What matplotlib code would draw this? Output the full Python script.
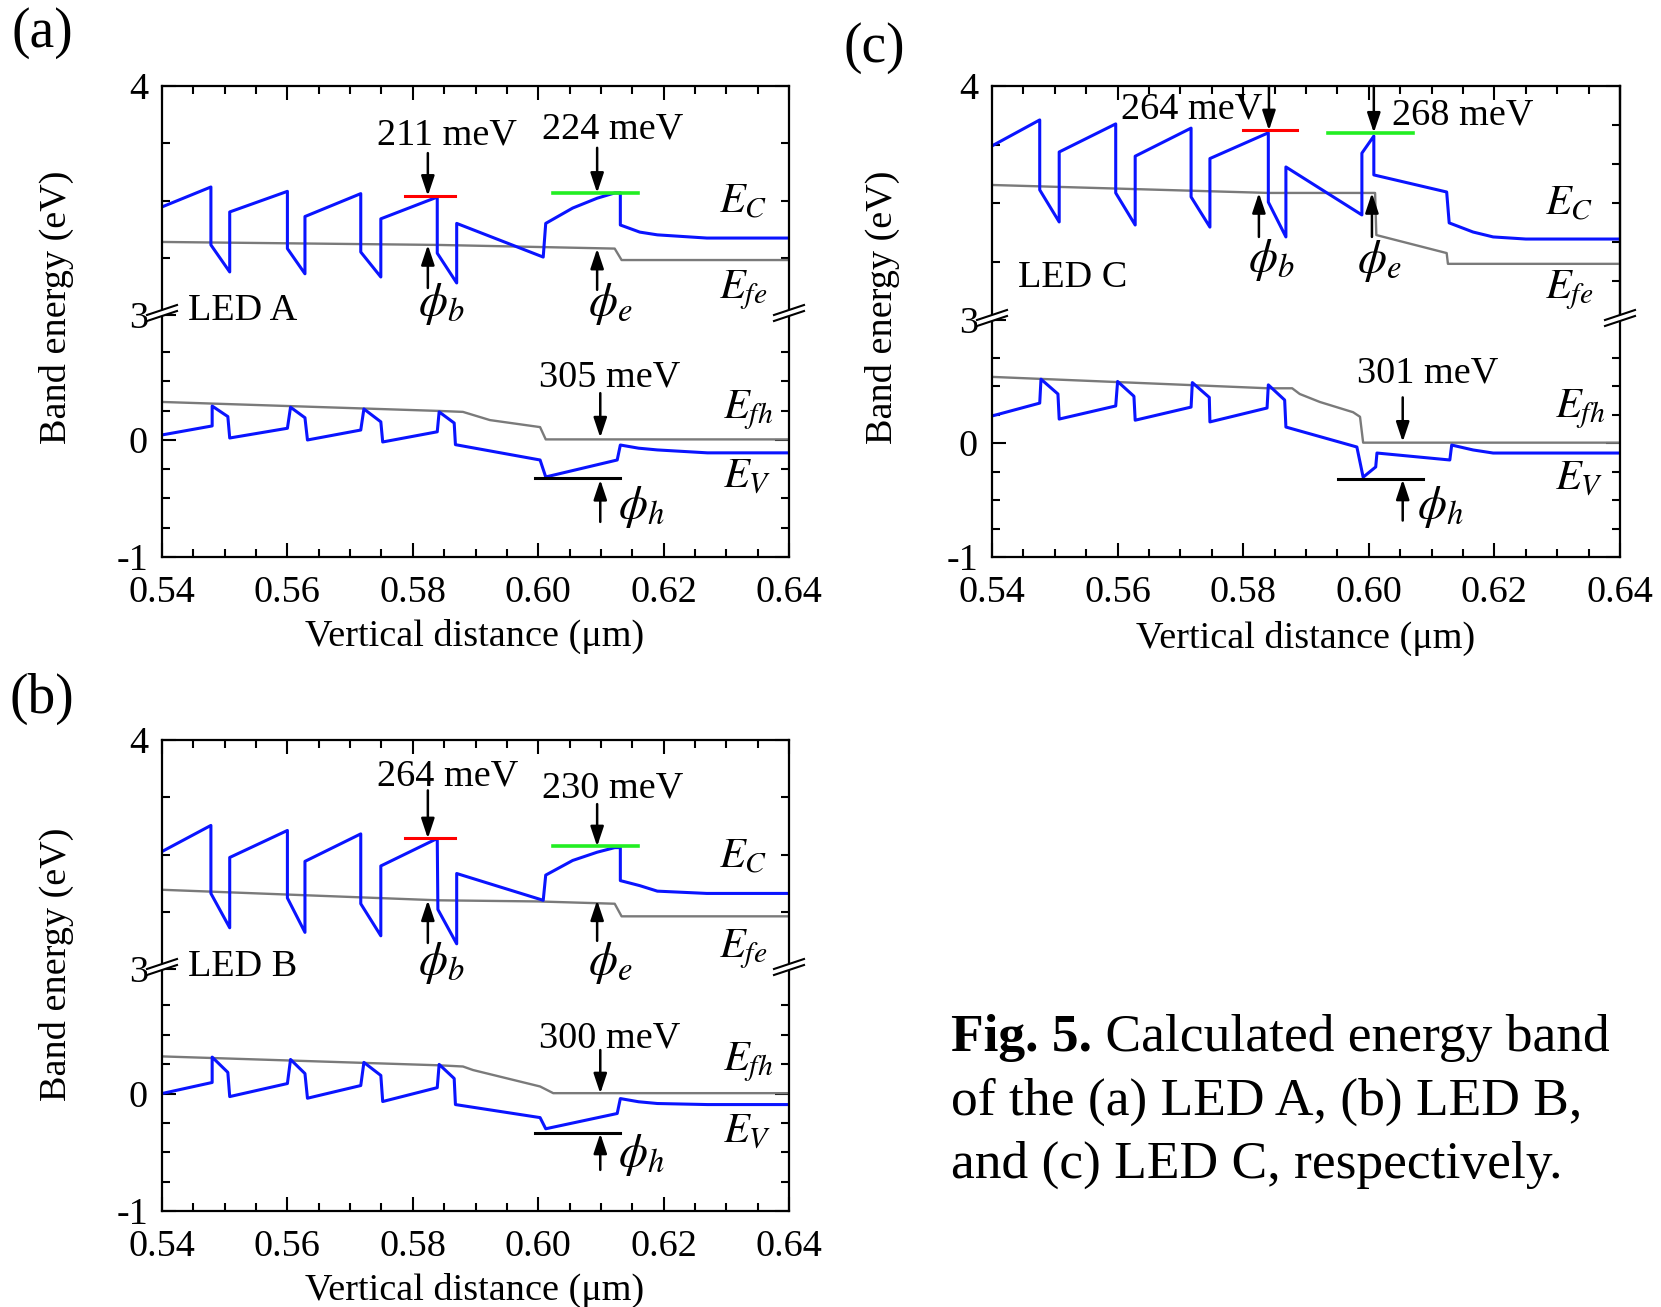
import matplotlib

matplotlib.use("Agg")
import matplotlib.pyplot as plt
import numpy as np
from matplotlib.lines import Line2D
from matplotlib.patches import Polygon
from matplotlib.text import Annotation

plt.rcParams["font.family"] = ["Liberation Serif", "DejaVu Serif"]
plt.rcParams["mathtext.fontset"] = "stix"
FS = 27.5

# ---------------- data (eV vs um) ----------------
# LED A
ec_x_a = [0.540, 0.5478, 0.5478, 0.5508, 0.5508, 0.5600, 0.5600, 0.5628, 0.5628, 0.5717, 0.5717,
          0.5749, 0.5749, 0.5839, 0.5839, 0.5870, 0.5870, 0.6008, 0.6012, 0.6055, 0.6094, 0.6122,
          0.6131, 0.6131, 0.6162, 0.6190, 0.6269, 0.640]
ec_e_a = [3.472, 3.559, 3.306, 3.188, 3.450, 3.540, 3.290, 3.180, 3.430, 3.530, 3.275,
          3.166, 3.420, 3.515, 3.270, 3.140, 3.400, 3.253, 3.400, 3.467, 3.510, 3.533,
          3.533, 3.393, 3.362, 3.350, 3.336, 3.336]
efe_x_a = [0.540, 0.5840, 0.6000, 0.6122, 0.6133, 0.640]
efe_e_a = [3.319, 3.306, 3.297, 3.290, 3.240, 3.240]
ev_x_a = [0.540, 0.5480, 0.5480, 0.5505, 0.5508, 0.5600, 0.5605, 0.5628, 0.5632, 0.5717, 0.5722,
          0.5749, 0.5752, 0.5839, 0.5842, 0.5866, 0.5868, 0.6003, 0.6012, 0.6126, 0.6131, 0.6160,
          0.6190, 0.6270, 0.640]
ev_e_a = [0.043, 0.120, 0.290, 0.200, 0.017, 0.100, 0.280, 0.190, 0.000, 0.085, 0.265,
          0.155, -0.017, 0.070, 0.240, 0.145, -0.040, -0.171, -0.316, -0.171, -0.043, -0.070,
          -0.085, -0.110, -0.110]
efh_x_a = [0.540, 0.5843, 0.5880, 0.5923, 0.6003, 0.6012, 0.640]
efh_e_a = [0.325, 0.248, 0.240, 0.170, 0.110, 0.005, 0.005]

# LED B
ec_x_b = [0.540, 0.5478, 0.5478, 0.5508, 0.5508, 0.5600, 0.5600, 0.5628, 0.5628, 0.5717, 0.5717,
          0.5749, 0.5749, 0.5839, 0.5840, 0.5870, 0.5870, 0.6008, 0.6012, 0.6055, 0.6094, 0.6122,
          0.6131, 0.6131, 0.6162, 0.6190, 0.6269, 0.640]
ec_e_b = [3.513, 3.627, 3.330, 3.180, 3.487, 3.605, 3.310, 3.160, 3.470, 3.590, 3.285,
          3.145, 3.450, 3.570, 3.260, 3.110, 3.417, 3.300, 3.410, 3.474, 3.510, 3.530,
          3.530, 3.386, 3.364, 3.340, 3.330, 3.330]
efe_x_b = [0.540, 0.5840, 0.6000, 0.6122, 0.6133, 0.640]
efe_e_b = [3.346, 3.300, 3.295, 3.285, 3.230, 3.230]
ev_x_b = ev_x_a
ev_e_b = [0.000, 0.094, 0.310, 0.180, -0.026, 0.085, 0.290, 0.170, -0.040, 0.068, 0.265,
          0.154, -0.068, 0.050, 0.248, 0.128, -0.094, -0.205, -0.300, -0.170, -0.043, -0.070,
          -0.085, -0.094, -0.094]
efh_x_b = [0.540, 0.5843, 0.5880, 0.5896, 0.6003, 0.6024, 0.640]
efh_e_b = [0.316, 0.240, 0.230, 0.200, 0.060, 0.003, 0.003]

# LED C
ec_x_c = [0.540, 0.5476, 0.5476, 0.5507, 0.5507, 0.5597, 0.5597, 0.5628, 0.5628, 0.5717, 0.5717,
          0.5747, 0.5747, 0.5840, 0.5840, 0.5868, 0.5868, 0.5989, 0.5989, 0.6008, 0.6008, 0.6124,
          0.6128, 0.6166, 0.6198, 0.6250, 0.640]
ec_e_c = [3.744, 3.855, 3.556, 3.419, 3.718, 3.838, 3.543, 3.406, 3.700, 3.820, 3.526,
          3.397, 3.690, 3.800, 3.504, 3.355, 3.654, 3.449, 3.713, 3.786, 3.620, 3.547,
          3.415, 3.376, 3.355, 3.346, 3.346]
efe_x_c = [0.540, 0.5840, 0.6010, 0.6012, 0.6124, 0.6126, 0.640]
efe_e_c = [3.577, 3.543, 3.543, 3.363, 3.286, 3.240, 3.240]
ev_x_c = [0.540, 0.5476, 0.5478, 0.5505, 0.5507, 0.5597, 0.5600, 0.5626, 0.5628, 0.5717, 0.5719,
          0.5746, 0.5747, 0.5838, 0.5840, 0.5866, 0.5868, 0.5981, 0.5991, 0.6011, 0.6013, 0.6129,
          0.6132, 0.6166, 0.6198, 0.6260, 0.640]
ev_e_c = [0.237, 0.350, 0.560, 0.430, 0.210, 0.325, 0.540, 0.410, 0.200, 0.315, 0.530,
          0.400, 0.185, 0.307, 0.510, 0.377, 0.140, -0.035, -0.300, -0.210, -0.088, -0.149,
          -0.018, -0.061, -0.088, -0.088, -0.088]
efh_x_c = [0.540, 0.5840, 0.5878, 0.5890, 0.5922, 0.5975, 0.5986, 0.5991, 0.640]
efh_e_c = [0.580, 0.480, 0.480, 0.430, 0.360, 0.270, 0.230, 0.003, 0.003]

# barrier heights (labels) and marker levels
barrier_labels = {"a": ["211 meV", "224 meV", "305 meV"],
                  "b": ["264 meV", "230 meV", "300 meV"],
                  "c": ["264 meV", "268 meV", "301 meV"]}
phi_b_level = [3.520, 3.570, 3.810]
phi_e_level = [3.533, 3.535, 3.800]
phi_h_level = [-0.325, -0.333, -0.320]

x_major = [0.54, 0.56, 0.58, 0.60, 0.62, 0.64]
x_labels = ["0.54", "0.56", "0.58", "0.60", "0.62", "0.64"]

BLUE = "#0a14ff"
GRAY = "#7a7a7a"
GREEN = "#22ee22"

W, H = 1661, 1307
fig = plt.figure(figsize=(W / 100, H / 100), dpi=100)


def panel_axes(left, right, top, junc, bottom, lo_top, odd_right=False):
    w = (right - left) / W
    up = fig.add_axes([left / W, 1 - junc / H, w, (junc - top) / H])
    lo = fig.add_axes([left / W, 1 - bottom / H, w, (bottom - junc) / H])
    for ax in (up, lo):
        ax.set_facecolor("none")
        ax.set_xlim(0.54, 0.64)
        ax.set_xticks(x_major)
        ax.set_xticks(np.arange(0.545, 0.64, 0.005), minor=True)
        ax.tick_params(which="both", direction="in", width=1.5, left=True, right=True,
                       labelsize=FS)
        ax.tick_params(which="major", length=10)
        ax.tick_params(which="minor", length=6)
        ax.tick_params(axis="y", pad=10)
        for s in ax.spines.values():
            s.set_linewidth(1.6)
    up.set_ylim(3, 4)
    up.set_yticks([3, 4], ["3", "4"])
    up.set_yticks([3.25, 3.5, 3.75], minor=True)
    up.spines["bottom"].set_visible(False)
    up.tick_params(axis="x", which="both", bottom=False, top=True, labelbottom=False)
    if odd_right:
        up.tick_params(axis="y", which="minor", right=False)
        sec = up.secondary_yaxis("right")
        sec.set_yticks(3 + np.arange(1, 6) / 6)
        sec.tick_params(direction="in", length=6, width=1.5, labelright=False)
        sec.spines["right"].set_linewidth(1.6)
    lo.set_ylim(-1, lo_top)
    lo.set_yticks([-1, 0], ["-1", "0"])
    lo.set_yticks([-0.75, -0.5, -0.25, 0.25, 0.5, 0.75], minor=True)
    lo.spines["top"].set_visible(False)
    lo.tick_params(axis="x", which="both", top=False, bottom=True, pad=13)
    lo.set_xticklabels(x_labels)
    # axis break marks
    for xp in (left, right):
        yp = junc
        pts = [(xp - 15, yp + 6), (xp + 15, yp - 4), (xp + 15, yp - 10), (xp - 15, yp)]
        fig.add_artist(Polygon([(a / W, 1 - b / H) for a, b in pts], closed=True,
                               transform=fig.transFigure, facecolor="white",
                               edgecolor="none", zorder=5))
        for dy in (6, 0):
            fig.add_artist(Line2D([(xp - 15) / W, (xp + 15) / W],
                                  [1 - (yp + dy) / H, 1 - (yp + dy - 10) / H],
                                  transform=fig.transFigure, color="k", lw=1.5, zorder=6))
    return up, lo


def arrow(ax, x, y0, y1):
    ax.annotate("", xy=(x, y1), xytext=(x, y0), annotation_clip=False,
                arrowprops=dict(arrowstyle="-|>,head_length=0.6,head_width=0.2",
                                color="k", lw=1.8, mutation_scale=20,
                                shrinkA=0, shrinkB=0))


def curves(up, lo, ecx, ece, fex, fee, evx, eve, fhx, fhe):
    up.plot(fex, fee, color=GRAY, lw=1.7)
    up.plot(ecx, ece, color=BLUE, lw=2.2)
    lo.plot(fhx, fhe, color=GRAY, lw=1.7)
    lo.plot(evx, eve, color=BLUE, lw=2.2)


def side_labels(up, lo, xu, ec_y, fe_y, xl, fh_y, v_y):
    up.text(xu, ec_y, r"$E_C$", fontsize=FS + 3, va="baseline", ha="left")
    up.text(xu, fe_y, r"$E_{fe}$", fontsize=FS + 3, va="baseline", ha="left")
    lo.text(xl, fh_y, r"$E_{fh}$", fontsize=FS + 3, va="baseline", ha="left")
    lo.text(xl, v_y, r"$E_V$", fontsize=FS + 3, va="baseline", ha="left")


# ---------------- panel (a) ----------------
up, lo = panel_axes(162, 789, 86, 315, 557, 1.068)
curves(up, lo, ec_x_a, ec_e_a, efe_x_a, efe_e_a, ev_x_a, ev_e_a, efh_x_a, efh_e_a)
up.plot([0.5788, 0.5867], [phi_b_level[0]] * 2, color="red", lw=2.2)
up.plot([0.6024, 0.6159], [phi_e_level[0]] * 2, color=GREEN, lw=2.6)
up.text(0.5855, 3.786, barrier_labels["a"][0], fontsize=FS, ha="center", va="center")
up.text(0.6118, 3.81, barrier_labels["a"][1], fontsize=FS, ha="center", va="center")
arrow(up, 0.5824, 3.707, phi_b_level[0])
arrow(up, 0.6094, 3.73, phi_e_level[0])
arrow(up, 0.5824, 3.118, 3.306)
arrow(up, 0.6094, 3.11, 3.29)
up.text(0.5808, 3.0, r"$\phi_b$", fontsize=FS + 6, va="baseline", ha="left")
up.text(0.6079, 3.0, r"$\phi_e$", fontsize=FS + 6, va="baseline", ha="left")
up.text(0.5441, 3.017, "LED A", fontsize=FS, va="center", ha="left")
lo.plot([0.5995, 0.6131], [phi_h_level[0]] * 2, color="k", lw=2.2)
lo.text(0.6114, 0.54, barrier_labels["a"][2], fontsize=FS, ha="center", va="center")
arrow(lo, 0.6099, 0.40, 0.02)
arrow(lo, 0.6099, -0.70, -0.34)
lo.text(0.6127, -0.667, r"$\phi_h$", fontsize=FS + 6, va="baseline", ha="left")
side_labels(up, lo, 0.6289, 3.445, 3.074, 0.6295, 0.188, -0.41)

# ---------------- panel (b) ----------------
up, lo = panel_axes(162, 789, 740, 969, 1211, 1.06)
curves(up, lo, ec_x_b, ec_e_b, efe_x_b, efe_e_b, ev_x_b, ev_e_b, efh_x_b, efh_e_b)
up.plot([0.5788, 0.5867], [phi_b_level[1]] * 2, color="red", lw=2.2)
up.plot([0.6024, 0.6159], [phi_e_level[1]] * 2, color=GREEN, lw=2.6)
up.text(0.5855, 3.84, barrier_labels["b"][0], fontsize=FS, ha="center", va="center")
up.text(0.6118, 3.79, barrier_labels["b"][1], fontsize=FS, ha="center", va="center")
arrow(up, 0.5824, 3.78, phi_b_level[1])
arrow(up, 0.6094, 3.72, phi_e_level[1])
arrow(up, 0.5824, 3.114, 3.30)
arrow(up, 0.6094, 3.123, 3.30)
up.text(0.5808, 2.98, r"$\phi_b$", fontsize=FS + 6, va="baseline", ha="left")
up.text(0.6079, 2.98, r"$\phi_e$", fontsize=FS + 6, va="baseline", ha="left")
up.text(0.5441, 3.01, "LED B", fontsize=FS, va="center", ha="left")
lo.plot([0.5995, 0.6131], [phi_h_level[1]] * 2, color="k", lw=2.2)
lo.text(0.6114, 0.47, barrier_labels["b"][2], fontsize=FS, ha="center", va="center")
arrow(lo, 0.6099, 0.37, 0.0)
arrow(lo, 0.6099, -0.65, -0.34)
lo.text(0.6127, -0.615, r"$\phi_h$", fontsize=FS + 6, va="baseline", ha="left")
side_labels(up, lo, 0.6289, 3.443, 3.05, 0.6295, 0.197, -0.42)

# ---------------- panel (c) ----------------
up, lo = panel_axes(992, 1620, 86, 320, 557, 1.079, odd_right=True)
curves(up, lo, ec_x_c, ec_e_c, efe_x_c, efe_e_c, ev_x_c, ev_e_c, efh_x_c, efh_e_c)
up.plot([0.5800, 0.5886], [phi_b_level[2]] * 2, color="red", lw=2.2)
up.plot([0.5935, 0.6070], [phi_e_level[2]] * 2, color=GREEN, lw=2.6)
up.text(0.5718, 3.90, barrier_labels["c"][0], fontsize=FS, ha="center", va="center")
up.text(0.6150, 3.876, barrier_labels["c"][1], fontsize=FS, ha="center", va="center")
arrow(up, 0.5841, 4.0, phi_b_level[2])
arrow(up, 0.6008, 4.0, phi_e_level[2])
arrow(up, 0.5825, 3.355, 3.543)
arrow(up, 0.6005, 3.355, 3.543)
up.text(0.5808, 3.21, r"$\phi_b$", fontsize=FS + 6, va="baseline", ha="left")
up.text(0.5981, 3.205, r"$\phi_e$", fontsize=FS + 6, va="baseline", ha="left")
up.text(0.5441, 3.18, "LED C", fontsize=FS, va="center", ha="left")
lo.plot([0.5951, 0.6086], [phi_h_level[2]] * 2, color="k", lw=2.2)
lo.text(0.6093, 0.61, barrier_labels["c"][2], fontsize=FS, ha="center", va="center")
arrow(lo, 0.6054, 0.40, 0.01)
arrow(lo, 0.6054, -0.68, -0.32)
lo.text(0.6077, -0.66, r"$\phi_h$", fontsize=FS + 6, va="baseline", ha="left")
side_labels(up, lo, 0.6281, 3.449, 3.094, 0.6297, 0.228, -0.41)

# ---------------- figure texts ----------------
for lab, xp, yp in [("(a)", 42, 33), ("(b)", 42, 699), ("(c)", 874, 48)]:
    fig.text(xp / W, 1 - yp / H, lab, fontsize=40, ha="center", va="center")
for xp, yp in [(56, 307), (56, 964), (882, 307)]:
    fig.text(xp / W, 1 - yp / H, "Band energy (eV)", fontsize=FS, rotation=90,
             ha="center", va="center")
for xp, yp in [(475, 636), (475, 1290), (1306, 638)]:
    fig.text(xp / W, 1 - yp / H, "Vertical distance (\u03bcm)", fontsize=FS,
             ha="center", va="center")

CAP = 38.5
t1 = fig.text(951 / W, 1 - 1038 / H, "Fig. 5.", fontsize=CAP, weight="bold",
              ha="left", va="center")
fig.add_artist(Annotation(" Calculated energy band", xy=(1, 0), xycoords=t1,
                          fontsize=CAP, ha="left", va="bottom"))
fig.text(951 / W, 1 - 1102 / H, "of the (a) LED A, (b) LED B,", fontsize=CAP,
         ha="left", va="center")
fig.text(951 / W, 1 - 1165 / H, "and (c) LED C, respectively.", fontsize=CAP,
         ha="left", va="center")

fig.savefig("out.png", dpi=100)
plt.close(fig)
